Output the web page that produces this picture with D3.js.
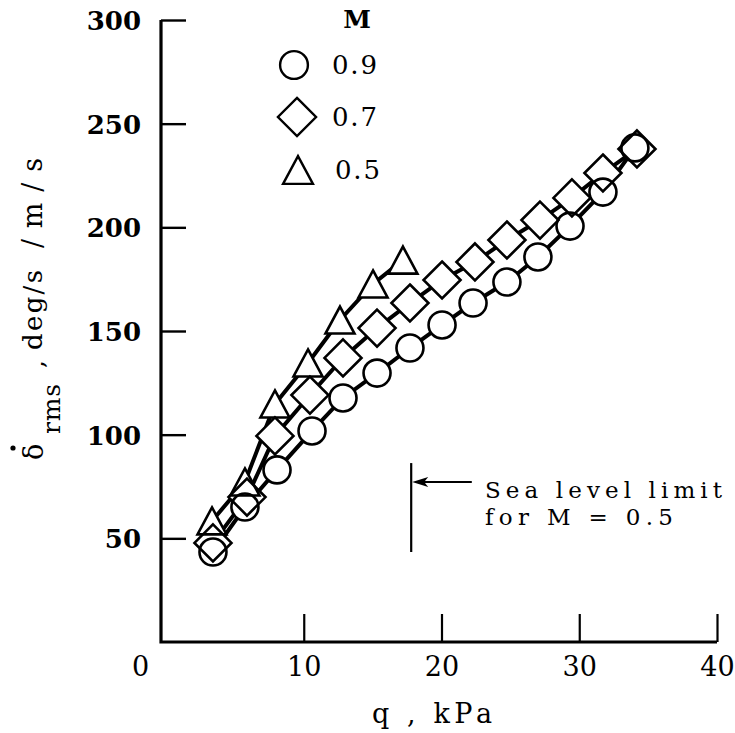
<!DOCTYPE html>
<html>
<head>
<meta charset="utf-8">
<script src="https://cdn.jsdelivr.net/npm/d3@7"></script>
<style>
  body { margin: 0; background: #fff; }
  svg { display: block; }
  text { font-family: "DejaVu Serif", serif; fill: #000; }
</style>
</head>
<body>
<div id="chart"></div>
<script>
// q (kPa) and rate values, one pair of arrays per Mach number
var qM09 = [3.41, 5.73, 8.06, 10.6, 12.85, 15.32, 17.71, 20.04, 22.29, 24.75, 27.0, 29.33, 31.72, 34.04];
var rateM09 = [43.4, 65.1, 83.0, 101.8, 117.7, 129.7, 141.8, 152.9, 163.5, 173.6, 185.7, 200.6, 217.0, 238.3];

var qM07 = [3.41, 5.88, 7.91, 10.45, 12.85, 15.32, 17.71, 20.04, 22.43, 24.75, 27.15, 29.47, 31.72, 34.19];
var rateM07 = [47.8, 69.9, 99.4, 119.1, 137.0, 151.4, 163.5, 174.6, 183.3, 193.9, 203.5, 214.2, 226.2, 237.8];

var qM05 = [3.34, 5.73, 7.91, 10.31, 12.63, 15.03, 17.2];
var rateM05 = [58.4, 77.2, 114.8, 134.6, 155.3, 172.7, 184.2];

var machLabels = ["0.9", "0.7", "0.5"];
var xTicks = [0, 10, 20, 30, 40];
var yTicks = [50, 100, 150, 200, 250, 300];

// sea level limit marker for M = 0.5
var seaLevelQ = 17.8;
var seaLevelRange = [43.4, 86.3];
var seaArrowY = 77.2;
var seaArrowFromQ = 22.2;

(function () {
  'use strict'

  var W = 735, H = 733;
  var svg = d3.select("#chart").append("svg")
      .attr("width", W)
      .attr("height", H);

  var x = d3.scaleLinear().domain([0, 40]).range([166, 717]);
  var y = d3.scaleLinear().domain([0, 300]).range([642, 20]);
  var axisX = 161; // drawn y-axis line sits a bit left of q = 0

  // axes
  var xAxis = svg.append("g")
      .attr("class", "xAxis")
      .attr("transform", "translate(0," + y(0) + ")")
      .call(d3.axisTop(x).tickValues(xTicks).tickSize(28).tickSizeOuter(0).tickFormat(d3.format("d")));
  xAxis.select(".domain").remove();
  xAxis.selectAll(".tick line").attr("stroke", "#000").attr("stroke-width", 2.2)
      .filter(function (d) { return d === 0; }).remove();
  xAxis.selectAll(".tick text")
      .attr("y", 34)
      .attr("dy", 0)
      .attr("font-size", 27)
      .attr("text-anchor", "middle")
      .attr("dx", function (d) { return d === 0 ? -26 : 0; });

  var yAxis = svg.append("g")
      .attr("class", "yAxis")
      .attr("transform", "translate(" + axisX + ",0)")
      .call(d3.axisRight(y).tickValues(yTicks).tickSize(25).tickSizeOuter(0).tickFormat(d3.format("d")));
  yAxis.select(".domain").remove();
  yAxis.selectAll(".tick line").attr("stroke", "#000").attr("stroke-width", 2.4);
  yAxis.selectAll(".tick text")
      .attr("x", -20)
      .attr("dy", "0.36em")
      .attr("font-size", 26)
      .attr("font-weight", "bold")
      .attr("text-anchor", "end");

  svg.append("path")
      .attr("d", "M" + axisX + "," + y(300) + "V" + y(0) + "H" + x(40))
      .attr("fill", "none")
      .attr("stroke", "#000")
      .attr("stroke-width", 3.2);

  // axis titles
  svg.append("text")
      .attr("x", 372)
      .attr("y", 723)
      .attr("font-size", 27)
      .attr("textLength", 120)
      .attr("lengthAdjust", "spacing")
      .text("q ,  kPa");

  // y title: rotated pieces, each placed by its start along the axis
  var yTitleParts = [
    {t: "\u03B4", base: 43, start: 460, len: 20, size: 27},
    {t: "rms", base: 60, start: 434, len: 50, size: 25},
    {t: ",", base: 44, start: 368, len: 7, size: 25},
    {t: "deg/s", base: 42, start: 350, len: 80, size: 26},
    {t: "/m/s", base: 42, start: 248, len: 90, size: 27}
  ];
  yTitleParts.forEach(function (p) {
    svg.append("text")
        .attr("transform", "translate(" + p.base + "," + p.start + ") rotate(-90)")
        .attr("font-size", p.size)
        .attr("textLength", p.len)
        .attr("lengthAdjust", "spacing")
        .text(p.t);
  });
  svg.append("circle")
      .attr("cx", 13)
      .attr("cy", 448)
      .attr("r", 2.6)
      .attr("fill", "#000");

  // series
  var series = [
    {q: qM09, v: rateM09, shape: "circle"},
    {q: qM07, v: rateM07, shape: "diamond"},
    {q: qM05, v: rateM05, shape: "triangle"}
  ];

  function shapePath(shape, s) {
    if (shape === "circle") {
      var r = 13.5 * s;
      return "M" + (-r) + ",0A" + r + "," + r + " 0 1,0 " + r + ",0A" + r + "," + r + " 0 1,0 " + (-r) + ",0Z";
    }
    if (shape === "diamond") {
      var h = 18.5 * s;
      return "M0," + (-h) + "L" + h + ",0L0," + h + "L" + (-h) + ",0Z";
    }
    var w = 14.5 * s, t = 13.5 * s;
    return "M0," + (-t) + "L" + w + "," + t + "L" + (-w) + "," + t + "Z";
  }

  var line = d3.line()
      .x(function (d) { return x(d[0]); })
      .y(function (d) { return y(d[1]); });

  series.forEach(function (s) {
    s.pts = s.q.map(function (q, i) { return [q, s.v[i]]; });
    svg.append("path")
        .datum(s.pts)
        .attr("d", line)
        .attr("fill", "none")
        .attr("stroke", "#000")
        .attr("stroke-width", 4);
  });

  // white knock-out under every marker, then outlines on top
  series.forEach(function (s) {
    svg.append("g").selectAll("path")
        .data(s.pts)
        .enter().append("path")
        .attr("transform", function (d) { return "translate(" + x(d[0]) + "," + y(d[1]) + ")"; })
        .attr("d", shapePath(s.shape, 1))
        .attr("fill", "#fff");
  });
  series.forEach(function (s) {
    svg.append("g").selectAll("path")
        .data(s.pts)
        .enter().append("path")
        .attr("transform", function (d) { return "translate(" + x(d[0]) + "," + y(d[1]) + ")"; })
        .attr("d", shapePath(s.shape, 1))
        .attr("fill", "none")
        .attr("stroke", "#000")
        .attr("stroke-width", 2.6);
  });

  // legend
  var leg = svg.append("g").attr("class", "legend");
  leg.append("text")
      .attr("x", 357)
      .attr("y", 28)
      .attr("font-size", 25)
      .attr("font-weight", "bold")
      .attr("text-anchor", "middle")
      .text("M");
  var legY = [65, 117, 170];
  var legX = [294, 297, 298];
  series.forEach(function (s, i) {
    leg.append("path")
        .attr("transform", "translate(" + legX[i] + "," + legY[i] + ")")
        .attr("d", shapePath(s.shape, 1.03))
        .attr("fill", "#fff")
        .attr("stroke", "#000")
        .attr("stroke-width", 2.4);
    leg.append("text")
        .attr("x", i === 2 ? 335 : 332)
        .attr("y", legY[i])
        .attr("dy", "0.36em")
        .attr("font-size", 26)
        .attr("textLength", 45)
        .attr("lengthAdjust", "spacing")
        .text(machLabels[i]);
  });

  // sea level limit annotation
  var sx = x(seaLevelQ), ay = y(seaArrowY);
  svg.append("line")
      .attr("x1", sx).attr("x2", sx)
      .attr("y1", y(seaLevelRange[0])).attr("y2", y(seaLevelRange[1]))
      .attr("stroke", "#000")
      .attr("stroke-width", 2.2);
  svg.append("line")
      .attr("x1", sx + 10).attr("x2", x(seaArrowFromQ))
      .attr("y1", ay).attr("y2", ay)
      .attr("stroke", "#000")
      .attr("stroke-width", 2);
  svg.append("path")
      .attr("d", "M" + (sx + 1) + "," + ay + "L" + (sx + 17) + "," + (ay - 5) +
                 "L" + (sx + 13) + "," + ay + "L" + (sx + 17) + "," + (ay + 5) + "Z")
      .attr("fill", "#000");

  svg.append("text")
      .attr("x", 485)
      .attr("y", 498)
      .attr("font-size", 23)
      .attr("textLength", 237)
      .attr("lengthAdjust", "spacing")
      .text("Sea level limit");
  svg.append("text")
      .attr("x", 485)
      .attr("y", 525)
      .attr("font-size", 23)
      .attr("textLength", 188)
      .attr("lengthAdjust", "spacing")
      .text("for M = 0.5");
})()
</script>
</body>
</html>
